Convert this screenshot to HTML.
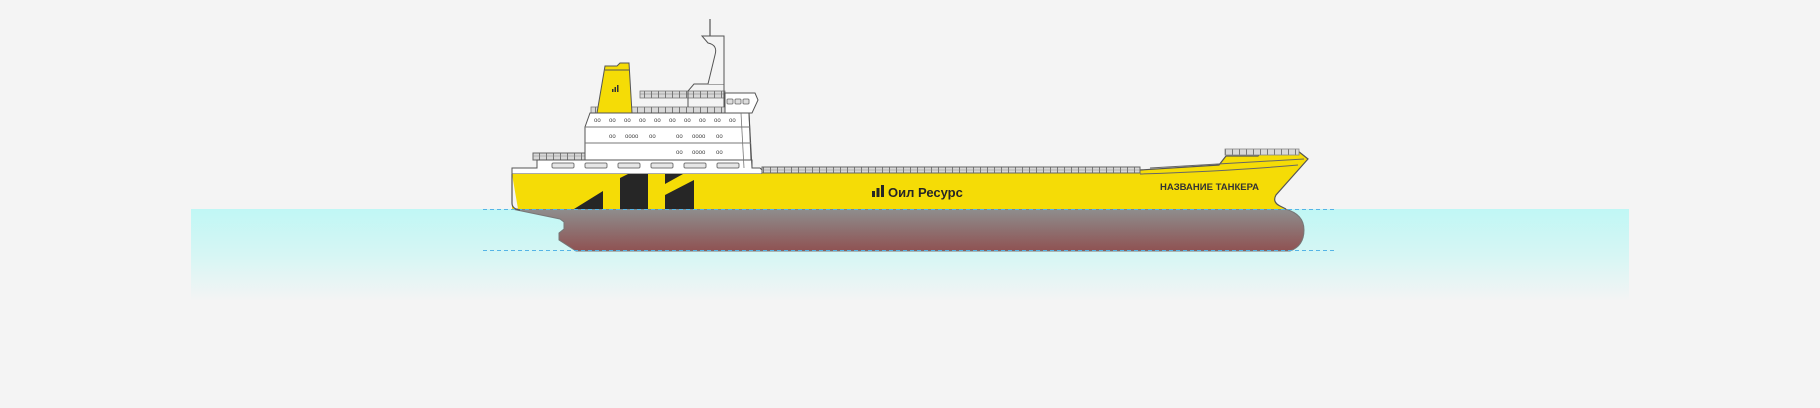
<!DOCTYPE html>
<html><head><meta charset="utf-8"><style>
html,body{margin:0;padding:0;background:#f4f4f4;}
svg{display:block;}
</style></head><body>
<svg width="1820" height="408" viewBox="0 0 1820 408" xmlns="http://www.w3.org/2000/svg">
<defs>
<linearGradient id="water" x1="0" y1="0" x2="0" y2="1">
<stop offset="0" stop-color="#c0f7f5"/><stop offset="0.5" stop-color="#d6f6f4"/><stop offset="1" stop-color="#f4f4f4"/>
</linearGradient>
<linearGradient id="hull" x1="0" y1="0" x2="0" y2="1">
<stop offset="0" stop-color="#8e8e8e"/><stop offset="1" stop-color="#8f5252"/>
</linearGradient>
<pattern id="rail" x="0" y="0" width="7" height="8" patternUnits="userSpaceOnUse">
<rect width="7" height="8" fill="#d8d8d8"/><line x1="0.5" y1="0" x2="0.5" y2="8" stroke="#777" stroke-width="1"/>
</pattern>
</defs>
<rect x="0" y="0" width="1820" height="408" fill="#f4f4f4"/>
<rect x="191" y="209" width="1438" height="92" fill="url(#water)"/>

<path d="M512,209 L1285,209 Q1304,214 1304,230 Q1304,246 1290,251 L576,251 L559,240 L559,233 L564,229 L564,222 L560,219 Z" fill="url(#hull)" stroke="#777" stroke-width="1"/>
<line x1="483" y1="209.5" x2="1337" y2="209.5" stroke="#55b4e6" stroke-width="1" stroke-dasharray="4,3"/>
<line x1="483" y1="250.5" x2="1337" y2="250.5" stroke="#55b4e6" stroke-width="1" stroke-dasharray="4,3"/>

<rect x="533" y="153" width="135" height="7" fill="url(#rail)" stroke="#666" stroke-width="1"/>
<line x1="533" y1="156" x2="668" y2="156" stroke="#888" stroke-width="0.6"/>

<path d="M512,168 L537,168 L537,160 L752,160 L752,168 L760,168 L762,170 L762,174 L512,174 Z" fill="#fff" stroke="#555" stroke-width="1"/>
<path d="M512,174 L762,174 L762,170 L1140,170 L1219,165 L1226,156 L1258,156 L1262,152 L1298,151 L1308,159 L1276,195 Q1272,202 1280,206 L1286,209 L512,209 L512,203 Q512,209 518,209 Z" fill="#f5dc06"/>
<path d="M512,174 L512,203 Q512,209 520,210" fill="none" stroke="#555" stroke-width="1.2"/>
<path d="M1140,170 L1219,165 L1226,156 L1258,156 L1262,152 L1298,151 L1308,159 L1276,195 Q1272,202 1280,206 L1286,209" fill="none" stroke="#555" stroke-width="1.2"/>
<path d="M1150,168 Q1230,163 1304,159" fill="none" stroke="#666" stroke-width="1"/>
<path d="M1140,174 Q1230,171 1298,165" fill="none" stroke="#666" stroke-width="1"/>
<rect x="762" y="167" width="378" height="6" fill="url(#rail)" stroke="#666" stroke-width="1"/>
<line x1="762" y1="170" x2="1140" y2="170" stroke="#888" stroke-width="0.6"/>
<rect x="1225" y="149" width="74" height="6" fill="url(#rail)" stroke="#888" stroke-width="0.8"/>

<g fill="#e6e6e6" stroke="#777" stroke-width="1">
<rect x="552" y="163" width="22" height="5" rx="1.5"/><rect x="585" y="163" width="22" height="5" rx="1.5"/>
<rect x="618" y="163" width="22" height="5" rx="1.5"/><rect x="651" y="163" width="22" height="5" rx="1.5"/>
<rect x="684" y="163" width="22" height="5" rx="1.5"/><rect x="717" y="163" width="22" height="5" rx="1.5"/>
</g>

<g fill="#262626">
<path d="M574,209 L603,191 L603,209 Z"/>
<path d="M620,178 L628,174 L648,174 L648,209 L620,209 Z"/>
<path d="M665,174 L683,174 L665,184 Z"/>
<path d="M665,195 L694,180 L694,209 L665,209 Z"/>
</g>

<rect x="591" y="107" width="134" height="7" fill="url(#rail)" stroke="#777" stroke-width="0.8"/>
<rect x="640" y="91" width="85" height="7" fill="url(#rail)" stroke="#777" stroke-width="0.8"/>
<line x1="640" y1="94" x2="725" y2="94" stroke="#777" stroke-width="0.6"/>
<path d="M597,113 L605,66 L617,66 L620,63 L629,63 L632,113 Z" fill="#f5dc06" stroke="#555" stroke-width="1"/>
<line x1="605" y1="70" x2="629" y2="70" stroke="#555" stroke-width="1"/>
<g fill="#333"><rect x="612" y="89" width="1.5" height="3"/><rect x="614.5" y="87" width="1.5" height="5"/><rect x="617" y="85" width="1.5" height="7"/></g>
<path d="M688,107 L688,91 L694,84 L724,84 L724,107" fill="none" stroke="#555" stroke-width="1"/>
<path d="M724,84 L724,36 L702,36 L708,43 Q718,45 715,55 L708,84" fill="#f4f4f4" stroke="#555" stroke-width="1"/>
<line x1="710" y1="19" x2="710" y2="36" stroke="#555" stroke-width="1.2"/>
<path d="M725,93 L755,93 L758,100 L752,113 L725,113 Z" fill="#fff" stroke="#555" stroke-width="1"/>
<g fill="#ddd" stroke="#666" stroke-width="0.8">
<rect x="727" y="99" width="6" height="5" rx="1"/><rect x="735" y="99" width="6" height="5" rx="1"/><rect x="743" y="99" width="6" height="5" rx="1"/>
</g>
<path d="M590,113 L749,113 L751,160 L585,160 L585,127 Z" fill="#fff" stroke="#555" stroke-width="1"/>
<path d="M749,113 L752,168" fill="none" stroke="#555" stroke-width="1"/>
<line x1="585" y1="127" x2="750" y2="127" stroke="#777" stroke-width="1"/>
<line x1="585" y1="143" x2="751" y2="143" stroke="#777" stroke-width="1"/>
<line x1="741" y1="113" x2="744" y2="168" stroke="#777" stroke-width="0.8"/>
<g font-family="Liberation Sans, sans-serif" font-size="6" fill="#444">
<text x="594" y="122">oo</text><text x="609" y="122">oo</text><text x="624" y="122">oo</text><text x="639" y="122">oo</text><text x="654" y="122">oo</text><text x="669" y="122">oo</text><text x="684" y="122">oo</text><text x="699" y="122">oo</text><text x="714" y="122">oo</text><text x="729" y="122">oo</text>
<text x="609" y="138">oo</text><text x="625" y="138">oooo</text><text x="649" y="138">oo</text><text x="676" y="138">oo</text><text x="692" y="138">oooo</text><text x="716" y="138">oo</text>
<text x="676" y="154">oo</text><text x="692" y="154">oooo</text><text x="716" y="154">oo</text>
</g>

<g fill="#262626">
<rect x="872" y="191" width="3" height="6"/><rect x="876.5" y="188" width="3" height="9"/><rect x="881" y="185" width="3" height="12"/>
</g>
<text x="888" y="197" font-family="Liberation Sans, sans-serif" font-weight="bold" font-size="13" fill="#262626">Оил Ресурс</text>
<text x="1160" y="190" font-family="Liberation Sans, sans-serif" font-weight="bold" font-size="9.5" fill="#333">НАЗВАНИЕ ТАНКЕРА</text>
</svg>
</body></html>
